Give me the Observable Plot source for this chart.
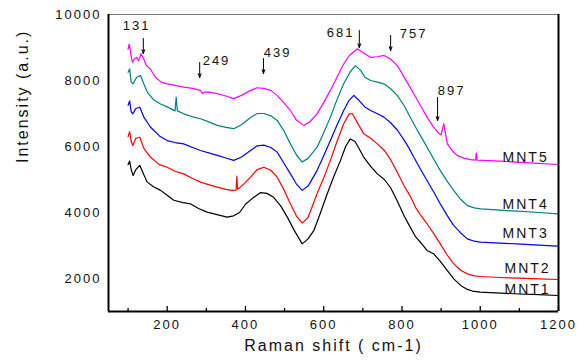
<!DOCTYPE html>
<html>
<head>
<meta charset="utf-8">
<script src="https://cdn.jsdelivr.net/npm/d3@7"></script>
<script src="https://cdn.jsdelivr.net/npm/@observablehq/plot@0.6"></script>
<style>
  html, body { margin: 0; padding: 0; background: #fff; }
  #chart { width: 586px; height: 362px; }
</style>
</head>
<body>
<div id="chart"></div>
<script>
// Raman shift (cm-1), intensity (a.u.) pairs
const mnt1 = [[100,5450],[104,5560],[108,5300],[113,5120],[120,5300],[130,5430],[140,5150],[149,4920],[165,4780],[183,4670],[200,4520],[217,4370],[240,4300],[260,4260],[280,4120],[302,4010],[330,3930],[353,3860],[370,3900],[385,4000],[400,4250],[420,4450],[438,4600],[455,4580],[472,4460],[490,4200],[507,3860],[525,3450],[545,3050],[560,3200],[575,3460],[592,4000],[609,4570],[626,5100],[643,5580],[656,6000],[668,6230],[680,6150],[692,5900],[702,5680],[720,5400],[737,5170],[755,5000],[771,4750],[788,4350],[805,3910],[820,3580],[835,3260],[850,3060],[864,2850],[881,2750],[898,2520],[916,2240],[933,1980],[950,1790],[965,1680],[980,1620],[1000,1590],[1052,1555],[1100,1530],[1150,1510],[1197,1485]];
const mnt2 = [[100,6300],[104,6450],[108,6150],[112,6030],[120,6250],[130,6280],[140,5950],[157,5680],[180,5450],[200,5370],[220,5250],[242,5170],[265,5030],[285,4920],[310,4830],[328,4770],[350,4700],[366,4670],[376,4680],[378,5100],[380,4700],[395,4850],[413,5070],[430,5300],[447,5370],[465,5280],[481,5070],[498,4700],[515,4260],[530,3900],[545,3680],[560,3850],[583,4570],[600,5050],[617,5580],[634,6150],[651,6690],[665,6980],[673,7000],[687,6700],[702,6390],[720,6250],[737,6080],[755,5880],[771,5600],[788,5220],[805,4820],[820,4520],[835,4150],[850,3880],[864,3660],[880,3380],[898,3050],[915,2720],[932,2450],[950,2250],[967,2140],[985,2080],[1001,2060],[1050,2030],[1100,2010],[1150,1990],[1197,1970]];
const mnt3 = [[100,7250],[104,7380],[108,7050],[112,6990],[120,7150],[130,7190],[140,6900],[157,6590],[180,6320],[200,6180],[220,6120],[242,6080],[265,5970],[285,5880],[308,5800],[328,5730],[350,5650],[370,5580],[390,5680],[413,5880],[430,6020],[447,6040],[465,5970],[481,5830],[498,5500],[515,5170],[530,4870],[545,4670],[560,4800],[583,5270],[600,5720],[617,6180],[634,6650],[651,7090],[665,7400],[677,7550],[690,7400],[705,7200],[720,7090],[737,6990],[754,6890],[771,6720],[788,6500],[805,6200],[818,5950],[830,5680],[847,5320],[864,4970],[881,4620],[898,4260],[915,3920],[932,3610],[950,3380],[967,3200],[985,3130],[1001,3100],[1050,3070],[1094,3050],[1150,3010],[1197,2980]];
const mnt4 = [[100,8250],[104,8350],[108,7950],[113,7900],[122,8100],[132,8150],[140,7900],[149,7650],[165,7420],[183,7290],[200,7200],[220,7080],[223,7500],[226,7080],[242,6990],[265,6900],[285,6840],[308,6740],[328,6640],[350,6580],[370,6540],[390,6660],[413,6880],[430,7000],[447,7000],[465,6930],[481,6790],[498,6480],[515,6080],[530,5750],[545,5530],[560,5640],[583,5980],[600,6420],[617,6890],[634,7420],[651,7900],[667,8250],[681,8450],[695,8300],[705,8100],[720,8000],[737,7950],[754,7900],[771,7750],[788,7550],[805,7250],[830,6690],[847,6330],[864,5980],[881,5620],[898,5270],[915,4960],[932,4670],[950,4400],[967,4210],[985,4140],[1001,4110],[1050,4070],[1094,4040],[1150,4000],[1197,3960]];
const mnt5 = [[100,8950],[103,9100],[107,8800],[111,8560],[116,8650],[122,8700],[127,8600],[133,8810],[140,8650],[147,8450],[157,8350],[170,8100],[185,7950],[200,7900],[220,7850],[242,7800],[265,7760],[285,7700],[290,7600],[295,7650],[308,7650],[328,7600],[350,7530],[370,7450],[390,7550],[413,7700],[430,7780],[446,7760],[465,7700],[481,7550],[498,7330],[515,7090],[530,6800],[549,6640],[565,6750],[583,6990],[600,7330],[617,7700],[634,8100],[651,8500],[665,8750],[686,8960],[700,8850],[720,8700],[737,8720],[754,8760],[771,8650],[788,8450],[796,8300],[813,7950],[830,7600],[847,7250],[864,6890],[880,6600],[894,6400],[900,6350],[903,6500],[907,6690],[911,6400],[916,6080],[930,5850],[941,5730],[960,5640],[975,5600],[988,5590],[990,5800],[992,5590],[1052,5555],[1100,5520],[1150,5490],[1197,5455]];

const seriesNames = ["MNT1","MNT2","MNT3","MNT4","MNT5"];
const seriesColors = ["#000000","#ff0000","#0000ff","#008080","#ff00ff"];
const seriesData = [mnt1, mnt2, mnt3, mnt4, mnt5];
// label anchor (Raman shift, intensity) for each series name
const labelX = [1180,1180,1175,1175,1175];
const labelY = [1667,2303,3364,4242,5667];

// peak annotations: label text, arrow x, arrow top y, arrow tip y, text x, text y
const peakLabels = ["131","249","439","681","757","897"];
const peakArrowX = [139,283,446,691,771,891];
const peakArrowTop = [9273,8545,8667,9515,9364,7485];
const peakArrowTip = [8818,8091,8212,9000,8909,6788];
const peakTextX = [122,326,482,643,830,927];
const peakTextY = [9667,8606,8848,9455,9424,7697];

const xMajor = [200,400,600,800,1000,1200];
const xMinor = [100,300,500,700,900,1100];
const yTicks = [2000,4000,6000,8000,10000];

const lines = seriesData.flatMap((arr, i) => arr.map(([x, y]) => ({x, y, s: seriesNames[i]})));
const labels = seriesNames.map((s, i) => ({s, x: labelX[i], y: labelY[i]}));
const peaks = peakLabels.map((t, i) => ({t, ax: peakArrowX[i], y1: peakArrowTop[i], y2: peakArrowTip[i], tx: peakTextX[i], ty: peakTextY[i]}));

const chart = Plot.plot({
  width: 586,
  height: 362,
  marginLeft: 108,
  marginRight: 28,
  marginTop: 14,
  marginBottom: 51,
  style: {fontFamily: "'Liberation Sans', Arial, sans-serif", fontSize: "13px", color: "#111", background: "#fff"},
  x: {domain: [50, 1200]},
  y: {domain: [1000, 10000]},
  color: {domain: seriesNames, range: seriesColors},
  marks: [
    Plot.line(lines, {x: "x", y: "y", z: "s", stroke: "s", strokeWidth: 1.2, curve: "linear"}),
    Plot.text(labels, {x: "x", y: "y", text: "s", textAnchor: "end", fontSize: 14, fill: "#111", style: "letter-spacing:1.8px"}),
    Plot.arrow(peaks, {x1: "ax", x2: "ax", y1: "y1", y2: "y2", stroke: "#000", strokeWidth: 1, headLength: 6, headAngle: 40}),
    Plot.text(peaks, {x: "tx", y: "ty", text: "t", fontSize: 13, fill: "#111"}),
    Plot.tickX(xMajor, {x: d => d, insetTop: 292, stroke: "#000", strokeWidth: 1.3}),
    Plot.tickX(xMinor, {x: d => d, insetTop: 294, stroke: "#000", strokeWidth: 1.3}),
    Plot.ruleY([10000], {stroke: "#777", strokeWidth: 1}),
    Plot.ruleX([1200], {stroke: "#000", strokeWidth: 2}),
    Plot.ruleX([50], {stroke: "#000", strokeWidth: 2}),
    Plot.ruleY([1000], {stroke: "#000", strokeWidth: 2}),
    Plot.axisX(xMajor, {tickSize: 0, tickPadding: 8, label: null, fontSize: 13, tickFormat: d => String(d)}),
    Plot.axisY(yTicks, {tickSize: 0, tickPadding: 7, label: null, fontSize: 13, tickFormat: d => String(d)}),
    Plot.text(["Raman shift ( cm-1)"], {frameAnchor: "bottom", dy: 39, fontSize: 16, fill: "#111", style: "letter-spacing:2.5px"}),
    Plot.text(["Intensity (a.u.)"], {frameAnchor: "left", dx: -86, rotate: -90, fontSize: 16, fill: "#111", style: "letter-spacing:1px"})
  ]
});
chart.querySelectorAll("text").forEach(t => { if (!t.getAttribute("style") || !t.getAttribute("style").includes("letter-spacing")) t.style.letterSpacing = "2px"; });
document.getElementById("chart").appendChild(chart);
</script>
</body>
</html>
